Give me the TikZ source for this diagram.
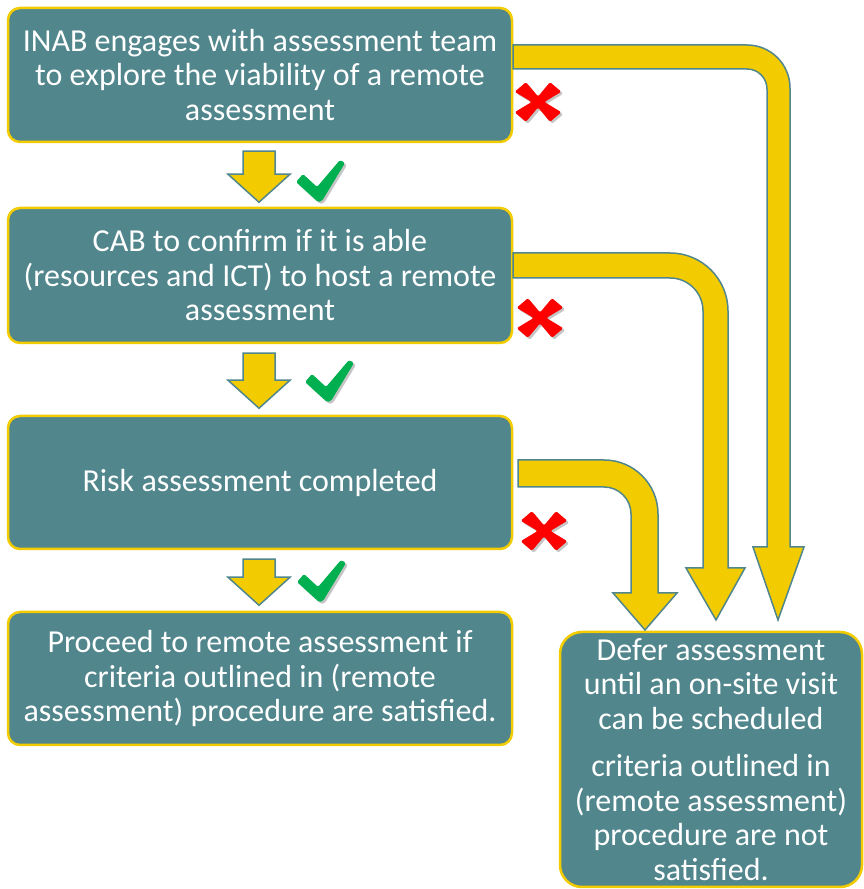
\documentclass[tikz,border=0pt]{standalone}
\usepackage{fontspec}
\setmainfont{Carlito}
\usetikzlibrary{calc}

\definecolor{boxteal}{RGB}{80,134,140}
\definecolor{boxyellow}{RGB}{242,204,0}
\definecolor{tickgreen}{RGB}{0,176,80}
\definecolor{crossred}{RGB}{255,0,0}

\tikzset{
  stepbox/.style={draw=boxyellow, line width=2.5pt, fill=boxteal, rounded corners=12pt,
    text=white, align=center, inner sep=0pt, font=\fontsize{32}{34.5}\selectfont},
  blockarrow/.style={draw=boxteal, line width=1.5pt, fill=boxyellow, line join=miter},
  markshadow/.style={fill=black!45, opacity=0.5},
  tickfill/.style={fill=tickgreen},
  crossfill/.style={fill=crossred},
}

% down arrow under a box, #1 = top point, #2 = length
\newcommand\blockdown[2]{%
  \draw[blockarrow, shift={(#1)}] (-16,0) -- (16,0) -- (16,-#2+28) -- (31,-#2+28)
    -- (0,-#2) -- (-31,-#2+28) -- (-16,-#2+28) -- cycle;}
% red cross and green tick
\newcommand\drawcross[1]{%
  \foreach \sty/\off in {markshadow/{(2,-2)}, crossfill/{(0,0)}}
    \fill[\sty, shift={(#1)}, shift=\off, yscale=0.85, rotate=45, rounded corners=1.5pt]
      (4.5,4.5) -- (8,25) -- (-8,25) -- (-4.5,4.5) -- (-25,8) -- (-25,-8) -- (-4.5,-4.5)
      -- (-8,-25) -- (8,-25) -- (4.5,-4.5) -- (25,-8) -- (25,8) -- cycle;}
\newcommand\drawtick[1]{%
  \foreach \sty/\off in {markshadow/{(2,-2)}, tickfill/{(0,0)}}
    \fill[\sty, shift={(#1)}, shift=\off, rounded corners=1.5pt]
      (-18,7) -- (-4,-6) -- (19,21) -- (24,18) -- (1,-20) -- (-3,-21) -- (-25,-1) -- cycle;}

\begin{document}
\begin{tikzpicture}[x=1pt, y=1pt]
    \useasboundingbox (0,0) rectangle (864,889);

    % kotak-kotak langkah
    \node[stepbox, minimum width=504pt, minimum height=134pt] (inab) at (260,814)
        {INAB engages with assessment team\\to explore the viability of a remote\\assessment};
    \node[stepbox, minimum width=504pt, minimum height=135pt] (cab) at (260,613.5)
        {CAB to confirm if it is able\\(resources and ICT) to host a remote\\assessment};
    \node[stepbox, minimum width=504pt, minimum height=133pt] (risk) at (260,406.5)
        {Risk assessment completed};
    \node[stepbox, minimum width=504pt, minimum height=133pt] (proceed) at (260,210.5)
        {Proceed to remote assessment if\\criteria outlined in (remote\\assessment) procedure are satisfied.};
    \node[stepbox, rounded corners=22pt, minimum width=302pt, minimum height=255pt] (defer) at (711,129.5)
        {Defer assessment\\until an on-site visit\\can be scheduled\\[13pt]criteria outlined in\\(remote assessment)\\procedure are not\\satisfied.};

    % panah ke bawah
    \blockdown{$(inab.south)+(-1,-8)$}{51}
    \blockdown{$(cab.south)+(-1,-9)$}{55}
    \blockdown{$(risk.south)+(-1,-9)$}{46}

    % panah belok ke kotak defer
    \draw[blockarrow] (513,844) -- (747,844) arc[start angle=90, end angle=0, radius=43]
        -- (790,342) -- (804,342) -- (778,269) -- (753,342) -- (767,342)
        -- (767,800) arc[start angle=0, end angle=90, radius=20] -- (513,820) -- cycle;
    \draw[blockarrow] (513,636) -- (670,636) arc[start angle=90, end angle=0, radius=58]
        -- (728,321) -- (745,321) -- (716,269) -- (686,321) -- (703,321)
        -- (703,578) arc[start angle=0, end angle=90, radius=33] -- (513,611) -- cycle;
    \draw[blockarrow] (518,429) -- (604,429) arc[start angle=90, end angle=0, radius=54]
        -- (658,296) -- (677,296) -- (645,259) -- (613,296) -- (631,296)
        -- (631,375) arc[start angle=0, end angle=90, radius=27] -- (518,402) -- cycle;

    % tanda ya dan tidak
    \drawtick{321,708}
    \drawtick{330,508}
    \drawtick{322,308}
    \drawcross{538,787}
    \drawcross{540,571}
    \drawcross{544,358}
\end{tikzpicture}
\end{document}
